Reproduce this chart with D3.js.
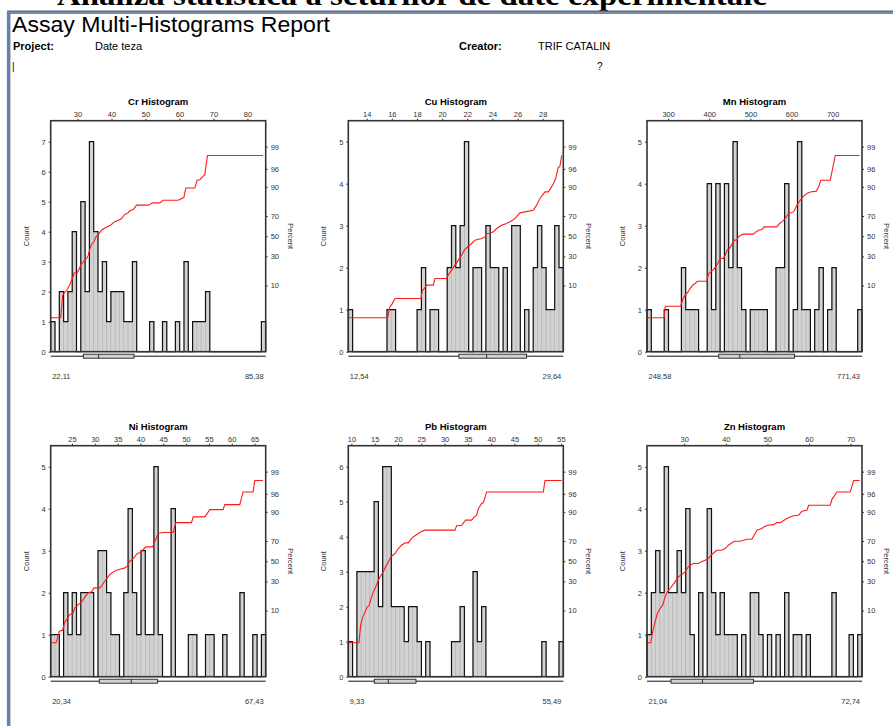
<!DOCTYPE html>
<html>
<head>
<meta charset="utf-8">
<script src="https://cdn.jsdelivr.net/npm/d3@7"></script>
<style>
  body { margin: 0; background: #fff; }
  svg { display: block; font-family: "Liberation Sans", Arial, sans-serif; }
</style>
</head>
<body>
<svg id="chart" width="893" height="726"></svg>
<script>
// ---- data ----
const elements = ['Cr', 'Cu', 'Mn', 'Ni', 'Pb', 'Zn'];
const minValues = [22.11, 12.54, 248.58, 20.34, 9.33, 21.04];
const maxValues = [85.38, 29.64, 771.43, 67.43, 55.49, 72.74];
const minLabels = ['22,11', '12,54', '248,58', '20,34', '9,33', '21,04'];
const maxLabels = ['85,38', '29,64', '771,43', '67,43', '55,49', '72,74'];
const q1Values = [31.71, 21.34, 423.1, 30.98, 14.91, 26.82];
const medianValues = [36.21, 23.54, 474.3, 37.98, 17.92, 34.37];
const q3Values = [46.6, 26.72, 607.4, 43.74, 23.86, 46.65];

// 50 bins per histogram
const crCounts = [1,0,2,1,2,4,0,5,2,7, 4,2,3,1,2,2,2,1,1,3, 0,0,0,1,0,0,1,0,0,1, 0,3,0,1,1,1,2,0,0,0, 0,0,0,0,0,0,0,0,0,1];
const cuCounts = [1,0,0,0,0,0,0,0,0,1, 1,0,0,0,0,0,1,2,0,1, 1,0,0,2,3,2,3,5,0,2, 2,0,3,2,2,0,2,0,3,3, 0,1,0,2,3,2,1,1,3,2];
const mnCounts = [1,0,0,0,1,0,0,0,2,1, 1,1,0,0,4,1,4,0,4,2, 5,2,1,0,1,1,1,1,0,0, 2,2,4,0,1,5,1,1,0,1, 2,0,1,2,0,0,0,0,0,1];
const niCounts = [1,1,0,2,1,2,1,2,2,2, 0,3,3,2,1,1,0,2,4,2, 1,3,1,1,5,1,0,0,4,0, 0,0,1,1,0,0,1,1,0,0, 1,0,0,0,2,0,0,1,0,1];
const pbCounts = [1,0,3,3,3,3,5,2,6,6, 2,2,2,1,2,2,1,0,1,0, 0,0,0,0,1,1,2,0,0,3, 1,2,0,0,0,0,0,0,0,0, 0,0,0,0,0,1,0,0,0,1];
const znCounts = [1,2,3,2,5,2,2,3,2,4, 1,0,2,0,4,2,1,2,1,1, 1,0,1,0,2,2,1,0,1,0, 1,0,2,0,1,1,0,1,0,0, 0,0,0,2,0,0,0,1,0,1];

// top axis tick values
const crTicks = [30, 40, 50, 60, 70, 80];
const cuTicks = [14, 16, 18, 20, 22, 24, 26, 28];
const mnTicks = [300, 400, 500, 600, 700];
const niTicks = [25, 30, 35, 40, 45, 50, 55, 60, 65];
const pbTicks = [10, 15, 20, 25, 30, 35, 40, 45, 50, 55];
const znTicks = [30, 40, 50, 60, 70];
const percentTicks = [10, 30, 50, 70, 90, 96, 99];

// cumulative percent curves [value, percent]
const crCurve = [[22.11,1.7],[25.05,1.7],[25.64,6.3],[26.32,7.4],[27.01,8.3],[27.79,10.6],[28.48,13.6],[29.06,17.1],[29.95,17.1],[30.53,20],[31.22,23.9],[32.0,26.1],[32.69,28.1],[33.18,31.1],[33.67,37.4],[34.16,41.8],[34.84,44.2],[35.43,49.3],[36.21,52.1],[37.09,56.2],[37.78,57.9],[38.76,59.6],[39.74,61.2],[40.82,64.5],[41.99,66.1],[42.97,67.7],[43.95,71.6],[44.64,72.2],[45.42,74.5],[46.4,75.6],[47.38,79],[50.81,79],[52.08,80.7],[54.23,80.7],[55.21,82.5],[59.62,82.5],[61.29,84.2],[61.87,89.5],[64.52,89.5],[65.2,92.7],[65.99,92.9],[66.77,93.8],[67.46,94.5],[68.24,98.2],[84.6,98.2]];
const cuCurve = [[12.54,1.7],[15.67,1.7],[15.85,3.3],[16.04,4.0],[16.25,5.3],[18.32,5.3],[18.43,8.0],[18.58,8.7],[18.77,10.2],[19.3,10.2],[19.43,13.6],[20.36,13.6],[20.49,15.6],[20.76,18.9],[21.02,22.6],[21.29,26.7],[21.55,31.1],[21.77,35.8],[22.08,39.7],[22.35,42.5],[22.61,45.9],[23.14,47.6],[23.41,49.3],[23.54,52.8],[23.81,52.8],[24.07,54.5],[24.34,57.9],[24.73,61.2],[25.13,62.9],[25.53,65.5],[25.79,67.7],[26.19,72.8],[26.59,73.6],[27.25,75.0],[27.52,79.0],[27.78,83.6],[28.18,87.5],[28.45,87.5],[28.84,91.2],[29.03,93.3],[29.24,96.3],[29.37,96.5],[29.51,98.2]];
const mnCurve = [[248.58,1.7],[289.99,1.7],[293.24,3.45],[330.58,3.45],[335.45,5.0],[341.14,6.3],[346.82,7.05],[353.31,8.7],[359.81,10.2],[365.49,10.95],[371.17,12.1],[393.91,12.1],[397.97,16.2],[403.65,17.7],[410.15,19.3],[416.64,21.8],[422.32,25.2],[426.38,28.1],[434.5,28.1],[438.56,31.1],[444.24,36.5],[449.11,37.4],[454.79,41.8],[460.48,45.9],[466.97,45.9],[471.03,49.3],[476.71,51.0],[483.21,52.1],[507.56,52.1],[513.25,54.5],[519.74,56.2],[527.86,56.9],[533.54,59.6],[564.39,59.6],[570.89,62.9],[576.57,64.5],[584.69,67.7],[592.81,72.2],[604.99,73.6],[613.1,79.0],[621.22,82.5],[629.34,85.1],[637.46,86.6],[645.58,87.5],[660.19,87.9],[665.88,90.0],[671.56,92.7],[694.29,92.7],[706.47,98.2],[765.74,98.2]];
const niCurve = [[20.34,1.7],[21.51,1.7],[22.24,3.45],[22.96,3.65],[23.33,5.3],[23.84,6.6],[24.57,8.3],[25.15,8.7],[25.66,11.3],[26.39,13.0],[27.12,14.5],[27.85,17.7],[28.58,20.6],[29.31,21.3],[29.82,24.4],[31.13,24.4],[31.86,28.1],[32.59,32.6],[33.32,36.5],[34.05,39.1],[34.77,40.7],[35.5,41.8],[36.6,43.1],[37.11,45.2],[37.54,49.3],[38.42,52.8],[39.29,57.9],[40.02,58.9],[40.46,61.2],[41.19,64.5],[42.65,64.5],[43.16,69.8],[43.89,76.4],[44.83,77.2],[47.17,77.2],[47.75,84.2],[51.18,84.2],[51.54,87.5],[54.09,87.5],[55.19,91.0],[58.1,91.0],[58.47,92.9],[61.75,92.9],[62.48,96.4],[64.67,96.4],[65.03,98.2],[66.85,98.2]];
const pbCurve = [[9.33,1.7],[11.62,1.7],[11.98,4.8],[12.34,6.8],[12.91,9.4],[13.41,11.8],[13.77,12.3],[14.2,16.6],[14.7,21.3],[15.2,25.2],[15.77,31.1],[16.34,35.8],[16.84,39.1],[17.35,44.2],[17.92,49.3],[18.49,54.5],[19.35,57.9],[20.07,62.9],[20.78,66.1],[21.5,68.3],[22.21,68.3],[22.79,71.6],[23.29,73.6],[23.79,75.0],[24.36,76.4],[24.93,77.7],[25.79,79.0],[32.23,79.0],[32.59,82.1],[33.66,82.5],[34.52,85.7],[35.81,85.7],[36.38,87.5],[36.88,88.4],[37.24,91.4],[37.96,93.3],[38.32,93.6],[39.03,96.4],[51.2,96.4],[51.56,98.2],[55.13,98.2]];
const znCurve = [[21.04,1.7],[21.92,1.7],[22.4,3.3],[22.97,5.75],[23.53,8.7],[24.17,10.95],[24.81,12.65],[25.38,17.7],[25.94,21.3],[26.58,23.9],[27.22,26.7],[27.78,29.6],[28.59,34.2],[29.39,36.5],[30.19,39.1],[30.99,44.2],[31.4,45.9],[32.2,47.6],[33.4,47.6],[33.97,49.3],[35.01,51.0],[35.81,52.8],[36.61,56.9],[37.18,58.9],[37.82,61.2],[39.02,61.2],[39.83,62.9],[40.63,66.1],[41.99,69.8],[43.44,69.8],[45.04,71.6],[46.25,71.6],[46.81,75.0],[47.45,79.0],[48.66,80.2],[49.22,81.4],[50.02,82.5],[51.47,82.9],[52.27,84.2],[53.07,84.2],[54.68,86.6],[55.48,87.5],[56.28,88.1],[57.49,88.4],[58.29,90.3],[59.5,90.7],[59.9,92.7],[65.11,92.7],[65.51,94.6],[66.72,96.4],[69.93,96.4],[70.73,98.2],[72.17,98.2]];

const allCounts = [crCounts, cuCounts, mnCounts, niCounts, pbCounts, znCounts];
const allTicks = [crTicks, cuTicks, mnTicks, niTicks, pbTicks, znTicks];
const allCurves = [crCurve, cuCurve, mnCurve, niCurve, pbCurve, znCurve];

// ---- layout ----
const colX = [50.7, 348.3, 647];
const rowY = [120.7, 445.7];
const W = 215, H = 231;

// inverse normal cdf (Acklam) for the probability axis
function probit(p) {
  const a = [-39.69683028665376, 220.9460984245205, -275.9285104469687, 138.3577518672690, -30.66479806614716, 2.506628277459239];
  const b = [-54.47609879822406, 161.5858368580409, -155.6989798598866, 66.80131188771972, -13.28068155288572];
  const c = [-7.784894002430293e-03, -0.3223964580411365, -2.400758277161838, -2.549732539343734, 4.374664141464968, 2.938163982698783];
  const d = [7.784695709041462e-03, 0.3224671290700398, 2.445134137142996, 3.754408661907416];
  const plow = 0.02425;
  let q, r;
  if (p < plow) {
    q = Math.sqrt(-2 * Math.log(p));
    return (((((c[0]*q+c[1])*q+c[2])*q+c[3])*q+c[4])*q+c[5]) / ((((d[0]*q+d[1])*q+d[2])*q+d[3])*q+1);
  }
  if (p > 1 - plow) {
    q = Math.sqrt(-2 * Math.log(1 - p));
    return -(((((c[0]*q+c[1])*q+c[2])*q+c[3])*q+c[4])*q+c[5]) / ((((d[0]*q+d[1])*q+d[2])*q+d[3])*q+1);
  }
  q = p - 0.5; r = q * q;
  return (((((a[0]*r+a[1])*r+a[2])*r+a[3])*r+a[4])*r+a[5])*q / (((((b[0]*r+b[1])*r+b[2])*r+b[3])*r+b[4])*r+1);
}

const svg = d3.select('#chart');

// ---- page header ----
// heading of the document page, cut by the top edge
svg.append('text')
  .attr('x', 57).attr('y', 4.5)
  .attr('font-family', '"Liberation Serif", "Times New Roman", serif')
  .attr('font-weight', 'bold').attr('font-size', 30)
  .attr('textLength', 710).attr('lengthAdjust', 'spacingAndGlyphs')
  .text('Analiza statistica a seturilor de date experimentale');

svg.append('rect').attr('x', 0).attr('y', 11).attr('width', 893).attr('height', 726)
  .attr('fill', '#fff');
svg.append('line').attr('x1', 7).attr('x2', 893).attr('y1', 11.5).attr('y2', 11.5)
  .attr('stroke', '#4f6f9f').attr('stroke-width', 2);
svg.append('line').attr('x1', 8).attr('x2', 8).attr('y1', 11).attr('y2', 726)
  .attr('stroke', '#5b82bd').attr('stroke-width', 2.2);
svg.append('line').attr('x1', 9.8).attr('x2', 893).attr('y1', 13.2).attr('y2', 13.2)
  .attr('stroke', '#222').attr('stroke-width', 0.8);
svg.append('line').attr('x1', 9.8).attr('x2', 9.8).attr('y1', 13).attr('y2', 726)
  .attr('stroke', '#222').attr('stroke-width', 0.8);

svg.append('text').attr('x', 12).attr('y', 32).attr('font-size', 22)
  .attr('textLength', 318).attr('lengthAdjust', 'spacingAndGlyphs')
  .text('Assay Multi-Histograms Report');
svg.append('text').attr('x', 13).attr('y', 50).attr('font-size', 11).attr('font-weight', 'bold')
  .text('Project:');
svg.append('text').attr('x', 95).attr('y', 50).attr('font-size', 11).text('Date teza');
svg.append('text').attr('x', 459).attr('y', 50).attr('font-size', 11).attr('font-weight', 'bold')
  .text('Creator:');
svg.append('text').attr('x', 538).attr('y', 50).attr('font-size', 11).text('TRIF CATALIN');
svg.append('text').attr('x', 12).attr('y', 70).attr('font-size', 10).text('|');
svg.append('text').attr('x', 597).attr('y', 70).attr('font-size', 10).text('?');

// ---- panels ----
elements.forEach((el, i) => {
  const counts = allCounts[i];
  const nBins = counts.length;
  const lo = minValues[i], hi = maxValues[i];
  const step = (hi - lo) / nBins;
  const bins = counts.map((c, k) => ({ x0: lo + k * step, x1: lo + (k + 1) * step, c }));

  const g = svg.append('g')
    .attr('transform', `translate(${colX[i % 3]},${rowY[Math.floor(i / 3)]})`);

  const x = d3.scaleLinear().domain([lo, hi]).range([0, W]);
  const y = d3.scaleLinear().domain([0, d3.max(counts) * 1.1]).range([H, 0]);
  const z = d3.scaleLinear().domain([-3, 3]).range([H, 0]);

  // bars
  g.selectAll('rect.bar')
    .data(bins.filter(b => b.c > 0))
    .join('rect')
    .attr('class', 'bar')
    .attr('x', b => x(b.x0))
    .attr('y', b => y(b.c))
    .attr('width', b => x(b.x1) - x(b.x0))
    .attr('height', b => H - y(b.c))
    .attr('fill', '#d2d2d2')
    .attr('stroke', '#b4b4b4')
    .attr('stroke-width', 0.6);

  // outline of the histogram
  const pts = [[x(lo), H]];
  bins.forEach(b => {
    pts.push([x(b.x0), y(b.c)]);
    pts.push([x(b.x1), y(b.c)]);
  });
  pts.push([x(hi), H]);
  g.append('path')
    .attr('d', d3.line()(pts))
    .attr('fill', 'none')
    .attr('stroke', '#111')
    .attr('stroke-width', 1.2);

  // cumulative percent curve
  g.append('path')
    .datum(allCurves[i])
    .attr('d', d3.line().x(d => x(d[0])).y(d => z(probit(d[1] / 100))))
    .attr('fill', 'none')
    .attr('stroke', '#ff1a1a')
    .attr('stroke-width', 1.1);

  // frame
  g.append('rect').attr('width', W).attr('height', H)
    .attr('fill', 'none').attr('stroke', '#333').attr('stroke-width', 1.6);

  // axes
  const styleAxis = sel => {
    sel.select('.domain').remove();
    sel.selectAll('text').attr('font-size', 7.5).attr('fill', '#333')
      .attr('font-family', '"Liberation Sans", Arial, sans-serif');
    sel.selectAll('line').attr('stroke', '#333');
  };

  g.append('g')
    .call(d3.axisTop(x).tickValues(allTicks[i]).tickFormat(d3.format('d')).tickSize(2).tickPadding(2))
    .call(styleAxis);

  g.append('g')
    .call(d3.axisLeft(y).ticks(d3.max(counts)).tickFormat(d3.format('d')).tickSize(2).tickPadding(3))
    .call(styleAxis);

  g.append('g')
    .attr('transform', `translate(${W},0)`)
    .call(d3.axisRight(z).tickValues(percentTicks.map(p => probit(p / 100)))
      .tickFormat((d, k) => percentTicks[k]).tickSize(2).tickPadding(3))
    .call(styleAxis);

  // titles
  g.append('text').attr('x', W / 2).attr('y', -16)
    .attr('text-anchor', 'middle').attr('font-size', 9.5).attr('font-weight', 'bold')
    .text(`${el} Histogram`);
  g.append('text')
    .attr('transform', `translate(-24.5,${H / 2}) rotate(-90)`)
    .attr('text-anchor', 'middle').attr('dy', '0.35em').attr('font-size', 7.5).attr('fill', '#333')
    .text('Count');
  g.append('text')
    .attr('transform', `translate(${W + 25},${H / 2}) rotate(90)`)
    .attr('text-anchor', 'middle').attr('dy', '0.35em').attr('font-size', 7.5).attr('fill', '#333')
    .text('Percent');

  // box plot under the axis
  const by = H + 4.5;
  g.append('line').attr('x1', 0).attr('x2', W).attr('y1', by).attr('y2', by)
    .attr('stroke', '#111').attr('stroke-width', 1);
  g.append('rect')
    .attr('x', x(q1Values[i])).attr('y', by - 2)
    .attr('width', x(q3Values[i]) - x(q1Values[i])).attr('height', 4)
    .attr('fill', '#d2d2d2').attr('stroke', '#222').attr('stroke-width', 0.9);
  g.append('line')
    .attr('x1', x(medianValues[i])).attr('x2', x(medianValues[i]))
    .attr('y1', by - 2).attr('y2', by + 2)
    .attr('stroke', '#222').attr('stroke-width', 0.9);

  // min / max labels
  g.append('text').attr('x', 1.5).attr('y', H + 27).attr('font-size', 7.5).attr('fill', '#333')
    .text(minLabels[i]);
  g.append('text').attr('x', W - 2).attr('y', H + 27).attr('text-anchor', 'end')
    .attr('font-size', 7.5).attr('fill', '#333')
    .text(maxLabels[i]);
});
</script>
</body>
</html>
